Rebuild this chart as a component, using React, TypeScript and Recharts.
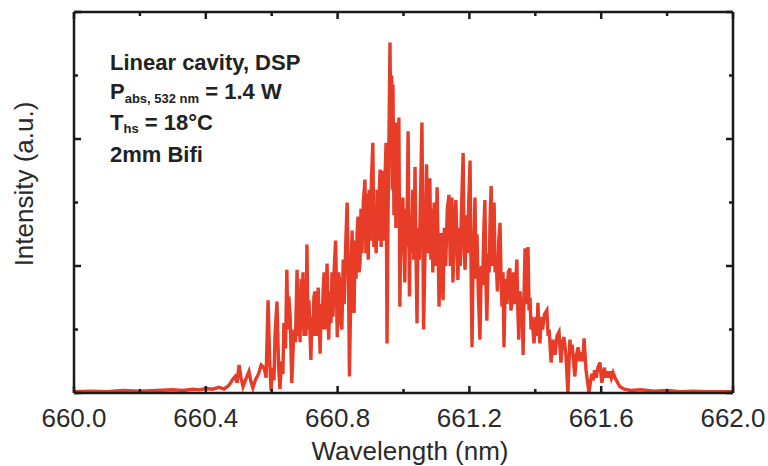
import { LineChart, Line, XAxis, YAxis, Customized } from "recharts";

// [wavelength offset from 660 nm, relative intensity]
const TAIL_LEFT: [number, number][] = [
  [0.0, 0.01], [0.05, 0.015], [0.1, 0.01], [0.15, 0.02], [0.2, 0.015], [0.25, 0.02], [0.3, 0.025],
  [0.33, 0.02], [0.36, 0.03], [0.38, 0.025], [0.4, 0.035], [0.42, 0.03], [0.44, 0.045], [0.455, 0.03],
  [0.47, 0.06], [0.48, 0.1], [0.489, 0.13], [0.495, 0.08], [0.501, 0.22], [0.507, 0.12], [0.513, 0.05],
  [0.52, 0.1], [0.531, 0.17], [0.537, 0.09], [0.543, 0.04], [0.55, 0.1], [0.56, 0.15], [0.568, 0.22],
];

const RISE: [number, number][] = [
  [0.577, 0.2], [0.583, 0.12], [0.589, 0.73], [0.594, 0.25], [0.598, 0.02], [0.603, 0.2], [0.607, 0.1],
  [0.61, 0.45], [0.616, 0.72], [0.621, 0.2], [0.625, 0.03], [0.63, 0.25], [0.634, 0.15], [0.637, 0.55],
  [0.642, 0.35], [0.646, 0.97], [0.649, 0.5], [0.652, 0.76], [0.656, 0.6], [0.661, 0.08], [0.665, 0.35],
  [0.668, 0.5], [0.672, 0.4], [0.677, 0.97], [0.68, 0.45], [0.683, 0.8], [0.686, 0.4], [0.689, 0.9],
  [0.692, 0.5], [0.695, 0.95], [0.698, 0.45], [0.701, 0.7], [0.704, 0.45], [0.707, 1.17], [0.71, 0.5],
  [0.713, 0.73], [0.719, 0.26], [0.722, 0.6], [0.725, 0.45], [0.728, 0.75], [0.731, 0.8], [0.734, 0.45],
  [0.737, 0.62], [0.739, 0.45], [0.741, 0.83], [0.747, 0.31], [0.75, 0.7], [0.753, 0.5], [0.756, 0.8],
  [0.759, 0.95], [0.762, 0.5], [0.765, 0.75], [0.768, 1.02], [0.773, 0.42], [0.777, 0.8], [0.78, 0.55],
  [0.783, 0.95], [0.786, 0.6], [0.79, 1.0], [0.794, 1.2], [0.799, 0.44], [0.803, 0.95], [0.807, 0.87],
  [0.81, 0.55], [0.813, 0.5], [0.817, 1.05], [0.82, 0.7], [0.825, 1.2], [0.829, 1.5], [0.833, 0.9],
  [0.836, 0.13], [0.841, 0.95], [0.844, 1.28], [0.847, 0.75], [0.85, 0.63], [0.853, 1.2], [0.856, 0.9],
  [0.859, 1.25], [0.862, 1.39], [0.865, 0.95], [0.868, 1.02], [0.871, 1.45], [0.874, 1.1], [0.878, 1.5],
  [0.883, 1.68], [0.886, 1.1], [0.889, 1.57], [0.893, 1.05], [0.896, 1.6], [0.899, 1.2], [0.903, 1.7],
  [0.907, 1.97], [0.91, 1.15], [0.912, 1.4], [0.917, 1.1], [0.92, 1.6], [0.923, 1.2], [0.926, 1.55],
  [0.929, 1.76], [0.932, 1.15], [0.935, 1.34], [0.938, 1.75], [0.941, 1.2], [0.944, 1.7],
];

const PEAK: [number, number][] = [
  [0.947, 1.97], [0.95, 0.39], [0.953, 1.4], [0.955, 1.8], [0.959, 2.76], [0.962, 1.9], [0.964, 2.5],
  [0.966, 1.6], [0.968, 2.43], [0.971, 1.4], [0.974, 1.95], [0.977, 1.3], [0.979, 2.13], [0.983, 1.4],
  [0.986, 2.17], [0.989, 0.68], [0.992, 1.4], [0.995, 1.1], [0.998, 1.54], [1.001, 1.15], [1.004, 0.87],
  [1.007, 1.45], [1.01, 1.15], [1.014, 2.06], [1.018, 0.76], [1.021, 1.4], [1.025, 1.1], [1.028, 1.6],
  [1.031, 1.05], [1.035, 1.78], [1.038, 1.1], [1.041, 0.55], [1.044, 1.3], [1.048, 1.05], [1.052, 1.6],
  [1.056, 2.13], [1.061, 0.5], [1.066, 1.2], [1.07, 1.8], [1.074, 1.1], [1.077, 1.6], [1.08, 1.69],
  [1.083, 1.05], [1.086, 1.45], [1.089, 0.95], [1.093, 1.5], [1.097, 1.0], [1.102, 1.62], [1.108, 0.68],
  [1.111, 1.1], [1.114, 1.26], [1.117, 0.95], [1.12, 0.73], [1.124, 1.3], [1.128, 1.0], [1.133, 1.45],
  [1.138, 1.56], [1.142, 1.0], [1.147, 1.54], [1.15, 0.87], [1.155, 1.3], [1.159, 1.52], [1.165, 0.89],
  [1.169, 1.3], [1.172, 1.0], [1.176, 1.45], [1.181, 1.89], [1.184, 1.1], [1.187, 0.97], [1.191, 1.4],
  [1.194, 1.1], [1.198, 1.5], [1.202, 1.83], [1.205, 1.0], [1.208, 0.36], [1.211, 1.0], [1.214, 1.2],
  [1.217, 1.54], [1.22, 0.9], [1.223, 1.25], [1.227, 0.8], [1.232, 0.42], [1.236, 1.0], [1.24, 0.85],
  [1.244, 1.3], [1.247, 1.52], [1.25, 0.9], [1.253, 0.57], [1.257, 1.1], [1.26, 0.95], [1.263, 1.4],
  [1.266, 1.63], [1.27, 1.0], [1.275, 1.5], [1.278, 0.95], [1.281, 1.07], [1.285, 0.8], [1.289, 1.2],
  [1.293, 1.34],
];

const FALL: [number, number][] = [
  [1.296, 0.9], [1.299, 0.68], [1.302, 0.95], [1.305, 0.36], [1.309, 0.9], [1.314, 0.7], [1.318, 0.95],
  [1.323, 0.98], [1.326, 0.65], [1.33, 0.73], [1.334, 0.95], [1.338, 0.7], [1.344, 1.05], [1.347, 0.65],
  [1.35, 0.42], [1.354, 0.8], [1.357, 0.55], [1.36, 0.75], [1.363, 0.3], [1.366, 0.8], [1.369, 1.14],
  [1.373, 0.7], [1.378, 1.15], [1.381, 0.65], [1.384, 0.75], [1.387, 0.5], [1.39, 0.6], [1.396, 0.39],
  [1.402, 0.6], [1.405, 0.45], [1.408, 0.71], [1.411, 0.5], [1.414, 0.39], [1.418, 0.6], [1.422, 0.5],
  [1.428, 0.62], [1.435, 0.65], [1.439, 0.45], [1.442, 0.5], [1.448, 0.24], [1.454, 0.42], [1.46, 0.3],
  [1.466, 0.45], [1.472, 0.48], [1.478, 0.24], [1.482, 0.4], [1.487, 0.44], [1.493, 0.3], [1.499, 0.0],
  [1.505, 0.42], [1.509, 0.3], [1.512, 0.38], [1.516, 0.25], [1.52, 0.13], [1.525, 0.3], [1.53, 0.36],
  [1.535, 0.25], [1.539, 0.32], [1.544, 0.25], [1.548, 0.43], [1.554, 0.18], [1.563, 0.0], [1.568, 0.1],
  [1.572, 0.15], [1.576, 0.1], [1.58, 0.18], [1.585, 0.12], [1.59, 0.2], [1.596, 0.24], [1.602, 0.08],
  [1.606, 0.15], [1.61, 0.2], [1.614, 0.12], [1.618, 0.17], [1.622, 0.12], [1.627, 0.17], [1.631, 0.12],
  [1.636, 0.16], [1.642, 0.12], [1.65, 0.08], [1.657, 0.05],
];

const TAIL_RIGHT: [number, number][] = [
  [1.67, 0.03], [1.69, 0.02], [1.72, 0.025], [1.76, 0.015], [1.8, 0.02], [1.84, 0.01], [1.88, 0.015],
  [1.92, 0.01], [1.96, 0.01], [2.0, 0.01],
];

const X_TICKS = [660.0, 660.2, 660.4, 660.6, 660.8, 661.0, 661.2, 661.4, 661.6, 661.8, 662.0];
const Y_TICKS = [0, 0.5, 1, 1.5, 2, 2.5, 3];

const data = [...TAIL_LEFT, ...RISE, ...PEAK, ...FALL, ...TAIL_RIGHT].map(([d, v]) => ({ wl: 660 + d, v }));

const FONT = "'Liberation Sans', Arial, sans-serif";
const INK = "#1a1a1a";
const RED = "#e63c28";

const isMajorX = (v: number) => Math.round((v - 660) * 10) % 4 === 0;
const isMajorY = (v: number) => Math.round(v * 2) % 2 === 0;

function BottomTick({ x, y, payload }: any) {
  const major = isMajorX(payload.value);
  return (
    <g>
      <line x1={x} x2={x} y1={y} y2={y - (major ? 7 : 4)} stroke={INK} strokeWidth={2.5} />
      {major && (
        <text x={x} y={y + 34} textAnchor="middle" fontSize={26} fill="#2a2a2a" fontFamily={FONT}>
          {payload.value.toFixed(1)}
        </text>
      )}
    </g>
  );
}

function TopTick({ x, y, payload }: any) {
  const major = isMajorX(payload.value);
  return <line x1={x} x2={x} y1={y} y2={y + (major ? 7 : 4)} stroke={INK} strokeWidth={2.5} />;
}

function LeftTick({ x, y, payload }: any) {
  const major = isMajorY(payload.value);
  return <line x1={x} x2={x + (major ? 7 : 4)} y1={y} y2={y} stroke={INK} strokeWidth={2.5} />;
}

function RightTick({ x, y, payload }: any) {
  const major = isMajorY(payload.value);
  return <line x1={x} x2={x - (major ? 7 : 4)} y1={y} y2={y} stroke={INK} strokeWidth={2.5} />;
}

function Annotations() {
  const t = { fontFamily: FONT, fontWeight: 700, fontSize: 22, fill: "#222" };
  return (
    <g>
      <text x={110} y={70} {...t}>Linear cavity, DSP</text>
      <text x={110} y={99} {...t}>
        P<tspan fontSize={13} dy={4}>abs, 532 nm</tspan>
        <tspan dy={-4}> = 1.4 W</tspan>
      </text>
      <text x={110} y={130} {...t}>
        T<tspan fontSize={13} dy={3}>hs</tspan>
        <tspan dy={-3}> = 18°C</tspan>
      </text>
      <text x={110} y={162} {...t}>2mm Bifi</text>
      <text x={33} y={184} transform="rotate(-90 33 184)" textAnchor="middle" fontSize={26}
        fill="#2a2a2a" fontFamily={FONT}>
        Intensity (a.u.)
      </text>
      <text x={410} y={460} textAnchor="middle" fontSize={26} fill="#2a2a2a" fontFamily={FONT}>
        Wavelength (nm)
      </text>
    </g>
  );
}

export default function App() {
  return (
    <div style={{ position: "absolute", left: 0, top: 0, width: 768, height: 466, background: "#fff" }}>
      <LineChart width={768} height={466} data={data} margin={{ top: 11, right: 34, left: 0, bottom: 0 }}>
        <XAxis dataKey="wl" type="number" domain={[660, 662]} ticks={X_TICKS} allowDataOverflow
          height={73} tickSize={0} tickMargin={0} tickLine={false} interval={0}
          axisLine={{ stroke: INK, strokeWidth: 2.5 }} tick={BottomTick} />
        <XAxis xAxisId="top" orientation="top" dataKey="wl" type="number" domain={[660, 662]} ticks={X_TICKS}
          allowDataOverflow height={1} tickSize={0} tickMargin={0} tickLine={false} interval={0}
          axisLine={{ stroke: INK, strokeWidth: 2.5 }} tick={TopTick} />
        <YAxis type="number" domain={[0, 3]} ticks={Y_TICKS} allowDataOverflow width={74}
          tickSize={0} tickMargin={0} tickLine={false} interval={0}
          axisLine={{ stroke: INK, strokeWidth: 2.5 }} tick={LeftTick} />
        <YAxis yAxisId="right" orientation="right" type="number" domain={[0, 3]} ticks={Y_TICKS}
          allowDataOverflow width={1} tickSize={0} tickMargin={0} tickLine={false} interval={0}
          axisLine={{ stroke: INK, strokeWidth: 2.5 }} tick={RightTick} />
        {/* invisible series so the top/right frame axes get registered */}
        <Line xAxisId="top" yAxisId="right" dataKey="v" stroke="none" dot={false} isAnimationActive={false} />
        <Line dataKey="v" stroke={RED} strokeWidth={3.4} dot={false} isAnimationActive={false}
          strokeLinejoin="miter" />
        <Customized component={Annotations} />
      </LineChart>
    </div>
  );
}
